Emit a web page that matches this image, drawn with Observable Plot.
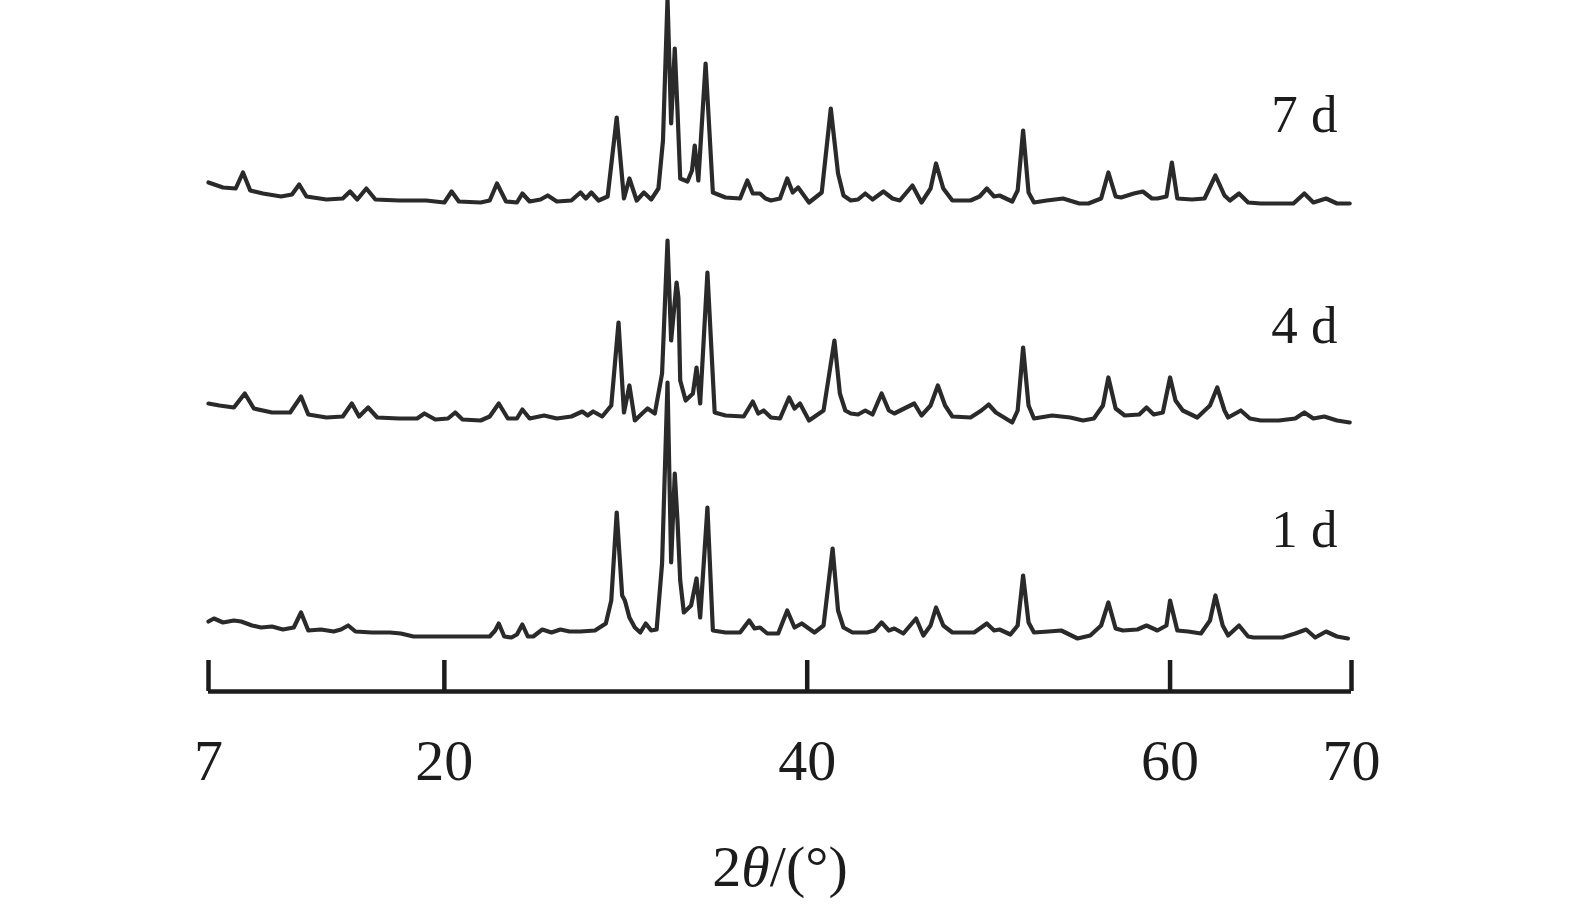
<!DOCTYPE html>
<html><head><meta charset="utf-8">
<script src="https://cdn.jsdelivr.net/npm/d3@7"></script>
<script src="https://cdn.jsdelivr.net/npm/@observablehq/plot@0.6"></script>
<style>body{margin:0;background:#fff}</style>
</head><body><div id="chart"></div>
<script>
// ---- data (intensity in arbitrary units above each trace's offset) ----
const seriesNames = ["1 d", "4 d", "7 d"];
const seriesOffsets = [0, 215, 430];
const xTicks = [7, 20, 40, 60, 70];
const xLabel = "2θ/(°)";

const twoTheta1d = [7.0,7.3,7.8,8.4,8.8,9.4,9.9,10.5,11.1,11.7,12.1,12.5,13.2,13.9,14.3,14.7,15.1,16.0,17.0,17.6,18.3,19.5,20.5,21.5,22.5,22.8,23.0,23.3,23.7,24.0,24.3,24.6,24.9,25.4,25.9,26.4,26.9,27.5,28.3,28.9,29.2,29.5,29.8,29.95,30.2,30.5,30.8,31.1,31.4,31.7,32.0,32.3,32.5,32.7,32.85,33.0,33.2,33.6,33.9,34.1,34.5,34.8,35.5,36.3,36.8,37.1,37.4,37.8,38.4,38.9,39.3,39.7,40.4,40.9,41.4,41.7,42.0,42.5,43.3,43.7,44.1,44.5,44.8,45.3,46.0,46.4,46.8,47.1,47.5,48.0,49.2,49.9,50.3,50.6,51.2,51.6,51.9,52.2,52.5,53.3,54.0,54.9,55.6,56.2,56.6,57.0,57.4,58.2,58.7,59.3,59.8,60.0,60.4,61.0,61.7,62.2,62.5,62.9,63.2,63.8,64.3,64.6,65.5,66.2,66.9,67.5,68.0,68.6,69.2,69.8];
const intensity1d = [19,22,18,20,19,15,13,14,11,13,28,10,11,9,11,15,9,8,8,7,4,4,4,4,4,10,17,4,3,6,16,4,4,11,8,11,9,9,10,17,40,128,45,40,23,13,8,17,10,11,77,258,78,167,120,60,28,35,62,23,133,10,8,8,20,12,13,7,7,30,13,17,8,15,92,30,13,8,8,10,18,10,12,7,22,5,15,33,15,8,8,17,10,11,6,15,65,18,8,9,10,2,5,15,38,12,10,11,15,10,15,40,10,9,7,20,45,15,5,15,4,3,3,3,7,11,3,9,4,2];

const twoTheta4d = [7.0,7.6,8.4,9.0,9.5,10.5,11.5,12.1,12.5,13.5,14.4,14.9,15.3,15.8,16.3,17.5,18.5,18.9,19.5,20.2,20.6,21.0,22.0,22.5,23.0,23.5,24.0,24.3,24.7,25.5,26.2,27.0,27.6,27.9,28.2,28.7,29.2,29.6,29.9,30.2,30.5,30.9,31.2,31.6,32.0,32.3,32.5,32.8,32.9,33.0,33.3,33.7,33.9,34.1,34.5,34.9,35.5,36.5,37.0,37.3,37.6,38.0,38.5,39.0,39.3,39.6,40.1,40.9,41.5,41.8,42.1,42.4,42.8,43.2,43.6,44.1,44.5,44.8,45.9,46.3,46.8,47.2,47.6,48.0,49.0,49.6,50.0,50.4,51.3,51.6,51.9,52.2,52.5,53.5,54.5,55.2,55.8,56.3,56.6,57.0,57.5,58.3,58.7,59.1,59.6,60.0,60.3,60.7,61.5,62.2,62.6,63.0,63.2,63.9,64.4,65.0,66.0,66.9,67.4,67.9,68.5,69.2,69.9];
const intensity4d = [22,20,18,32,17,13,13,29,11,8,9,22,9,18,8,7,7,12,6,7,13,6,5,9,22,7,7,16,7,10,7,9,14,10,14,9,20,103,13,40,5,12,17,12,52,185,85,143,128,45,25,32,58,22,153,13,10,9,24,12,15,8,7,28,17,22,5,15,85,32,15,12,11,15,11,32,15,12,22,10,20,40,20,9,8,15,21,13,3,15,78,20,7,10,8,5,7,20,48,17,10,11,18,11,13,48,25,15,8,20,38,15,8,15,7,5,5,7,13,7,9,5,3];

const twoTheta7d = [7.0,7.8,8.5,8.9,9.3,10.0,11.0,11.6,12.0,12.4,13.5,14.4,14.8,15.2,15.7,16.2,17.5,19.0,20.0,20.4,20.8,22.0,22.5,22.9,23.4,24.0,24.3,24.7,25.3,25.7,26.2,27.0,27.5,27.8,28.1,28.5,29.0,29.5,29.9,30.2,30.6,31.0,31.4,31.8,32.05,32.3,32.5,32.7,32.85,33.0,33.4,33.65,33.8,34.0,34.4,34.8,35.5,36.3,36.7,37.0,37.4,37.7,38.0,38.5,38.9,39.2,39.5,40.1,40.8,41.3,41.7,42.0,42.4,42.8,43.2,43.6,44.2,44.7,45.1,45.8,46.3,46.8,47.1,47.5,48.0,49.0,49.5,49.9,50.3,50.6,51.3,51.6,51.9,52.2,52.5,53.2,54.1,55.0,55.5,56.2,56.6,57.0,57.3,58.0,58.5,59.0,59.3,59.8,60.1,60.4,61.2,61.9,62.5,63.0,63.3,63.8,64.3,65.0,66.0,66.8,67.4,67.9,68.6,69.2,69.9];
const intensity7d = [28,23,22,38,20,17,14,16,26,14,11,12,19,11,22,11,10,10,8,19,9,8,10,27,9,8,17,9,11,15,9,10,18,12,18,10,14,93,12,32,10,18,11,22,70,212,87,162,100,32,29,40,65,30,147,18,13,12,30,17,17,12,10,12,32,18,23,8,18,102,37,15,10,11,17,11,19,12,10,25,8,22,47,22,10,10,14,22,14,15,9,20,80,18,8,10,12,7,7,12,38,14,13,17,19,12,12,14,48,12,11,12,35,15,10,17,8,7,7,7,17,8,12,7,7];

// ---- build table ----
const tt = [twoTheta1d, twoTheta4d, twoTheta7d];
const ii = [intensity1d, intensity4d, intensity7d];
const rows = [];
seriesNames.forEach((name, s) => {
  tt[s].forEach((t, k) => rows.push({series: name, twoTheta: t, y: ii[s][k] + seriesOffsets[s]}));
});
const labelLift = [110, 99, 95];
const labels = seriesNames.map((name, s) => ({name, y: seriesOffsets[s] + labelLift[s]}));

const W = 1575, H = 905;
const serif = "Liberation Serif, Times New Roman, serif";
const ink = "#1c1c1c";

const chart = Plot.plot({
  width: W, height: H,
  marginLeft: 208, marginRight: 224, marginTop: 0, marginBottom: 214,
  style: {fontFamily: serif, color: ink, background: "#fff", overflow: "visible"},
  x: {domain: [7, 70]},
  y: {domain: [-51, 640], axis: null},
  marks: [
    Plot.line(rows, {x: "twoTheta", y: "y", z: "series", stroke: "#2a2a2a", strokeWidth: 4.2, strokeLinejoin: "round", strokeLinecap: "round"}),
    Plot.ruleY([-51], {stroke: ink, strokeWidth: 4.5}),
    Plot.ruleX(xTicks, {x: d => d, stroke: ink, strokeWidth: 4.5, insetTop: 660}),
    Plot.axisX(xTicks, {tickSize: 0, tickPadding: 47, fontSize: 58, fontFamily: serif, label: null, fill: ink}),
    Plot.text(labels, {x: () => 70, y: "y", text: "name", textAnchor: "end", dx: -14, fontSize: 53, fontFamily: serif, fill: ink}),
    Plot.text([xLabel], {frameAnchor: "bottom", dy: 194, fontSize: 58, fontFamily: serif, fill: ink, text: d => d})
  ]
});
document.getElementById("chart").appendChild(chart);

// italicise θ in the axis title
d3.select(chart).selectAll("text").filter(function(){ return this.textContent === xLabel; }).each(function(){
  const t = d3.select(this);
  t.text(null);
  t.append("tspan").text("2");
  t.append("tspan").attr("font-style", "italic").text("θ");
  t.append("tspan").text("/(°)");
});
</script>
</body></html>
